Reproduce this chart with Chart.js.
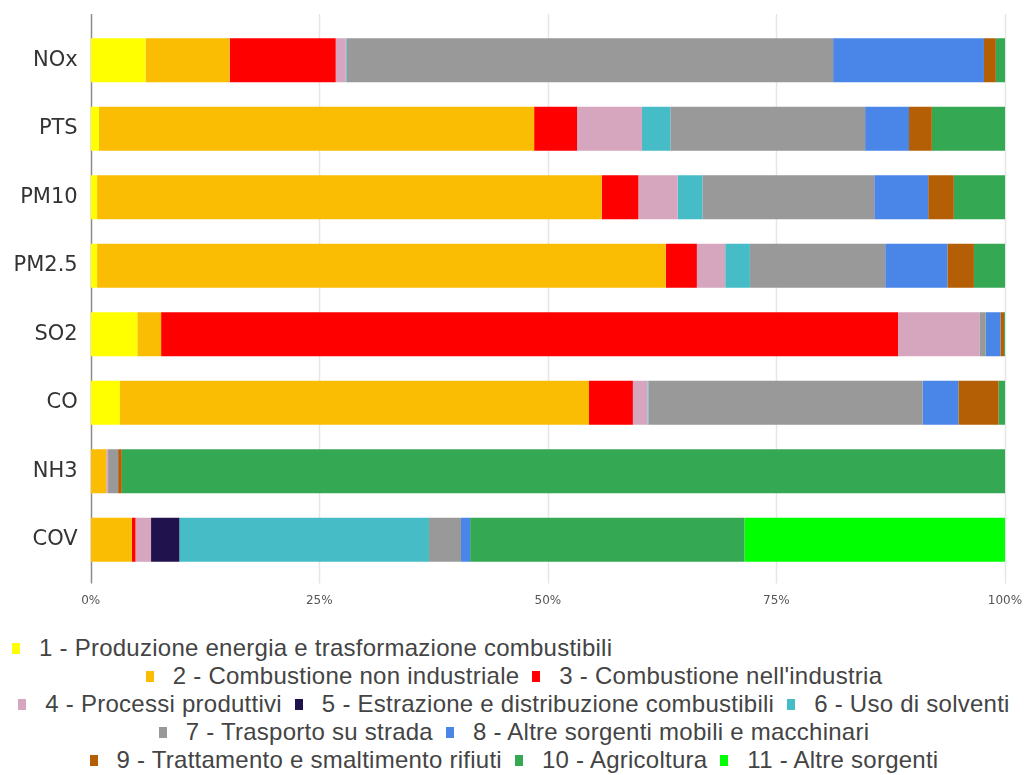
<!DOCTYPE html>
<html lang="it">
<head>
<meta charset="utf-8">
<title>Emissioni per macrosettore</title>
<script src="https://cdn.jsdelivr.net/npm/chart.js@4/dist/chart.umd.min.js"></script>
<style>
  html, body { margin: 0; padding: 0; background: #ffffff; }
  #wrap { position: relative; width: 1028px; height: 775px; overflow: hidden; }
  #chart { position: absolute; left: 0; top: 0; }
  .lg-row {
    position: absolute; left: 0; width: 1028px; height: 28px; line-height: 28px;
    font-family: "Liberation Sans", Arial, sans-serif; font-size: 24px; letter-spacing: 0.25px;
    color: #444; white-space: nowrap;
  }
  .lg-row.center { text-align: center; }
  .lg-item { display: inline-block; }
  .lg-item + .lg-item { margin-left: 13px; }
  .lg-box { display: inline-block; width: 8px; height: 11px; margin-right: 19px; vertical-align: 2px; }
</style>
</head>
<body>
<div id="wrap">
  <canvas id="chart" width="1028" height="620"></canvas>
  <div id="legend"></div>
</div>
<script>
// Inquinanti (categorie dell'asse verticale)
const pollutants = ['NOx', 'PTS', 'PM10', 'PM2.5', 'SO2', 'CO', 'NH3', 'COV'];

// Etichette dell'asse delle percentuali
const percentTicks = ['0%', '25%', '50%', '75%', '100%'];

// Nomi dei macrosettori
const sectorNames = [
  '1 - Produzione energia e trasformazione combustibili',
  '2 - Combustione non industriale',
  '3 - Combustione nell\'industria',
  '4 - Processi produttivi',
  '5 - Estrazione e distribuzione combustibili',
  '6 - Uso di solventi',
  '7 - Trasporto su strada',
  '8 - Altre sorgenti mobili e macchinari',
  '9 - Trattamento e smaltimento rifiuti',
  '10 - Agricoltura',
  '11 - Altre sorgenti'
];

const sectorColors = [
  '#ffff00', '#fbbc04', '#ff0000', '#d5a6bd', '#20124d', '#46bdc6',
  '#999999', '#4a86e8', '#b45f06', '#34a853', '#00ff00'
];

// Quota percentuale di ogni macrosettore, nell'ordine di "pollutants"
const produzioneEnergia   = [6.0, 0.9, 0.7, 0.7, 5.1, 3.2, 0.0, 0.0];
const combNonIndustriale  = [9.2, 47.6, 55.2, 62.2, 2.6, 51.3, 1.7, 4.5];
const combIndustria       = [11.6, 4.7, 4.0, 3.4, 80.6, 4.8, 0.0, 0.4];
const processiProduttivi  = [1.1, 7.1, 4.3, 3.1, 8.9, 1.6, 0.2, 1.7];
const estrazioneDistrib   = [0.0, 0.0, 0.0, 0.0, 0.0, 0.0, 0.0, 3.1];
const usoSolventi         = [0.1, 3.1, 2.7, 2.7, 0.0, 0.1, 0.0, 27.3];
const trasportoStrada     = [53.2, 21.3, 18.8, 14.8, 0.7, 30.0, 1.1, 3.5];
const altreSorgentiMobili = [16.5, 4.8, 5.9, 6.8, 1.6, 3.9, 0.0, 1.0];
const rifiuti             = [1.3, 2.5, 2.8, 2.9, 0.4, 4.4, 0.4, 0.0];
const agricoltura         = [1.0, 8.0, 5.6, 3.4, 0.1, 0.7, 96.6, 30.0];
const altreSorgenti       = [0.0, 0.0, 0.0, 0.0, 0.0, 0.0, 0.0, 28.5];

const sectorValues = [
  produzioneEnergia, combNonIndustriale, combIndustria, processiProduttivi,
  estrazioneDistrib, usoSolventi, trasportoStrada, altreSorgentiMobili,
  rifiuti, agricoltura, altreSorgenti
];

// Righe della legenda (indici dei macrosettori)
const legendRows = [[0], [1, 2], [3, 4, 5], [6, 7], [8, 9, 10]];

// Ogni barra è riportata al 100%
const totals = pollutants.map((_, i) => sectorValues.reduce((s, arr) => s + arr[i], 0));

const datasets = sectorNames.map((name, k) => ({
  label: name,
  data: sectorValues[k].map((v, i) => v / totals[i] * 100),
  backgroundColor: sectorColors[k],
  borderWidth: 0,
  categoryPercentage: 0.642,
  barPercentage: 1.0
}));

// Linee verticali della griglia, prolungate oltre l'area delle barre
const verticalGrid = {
  id: 'verticalGrid',
  beforeDatasetsDraw(chart) {
    const { ctx, chartArea, scales: { x } } = chart;
    const y0 = chartArea.top - 12;
    const y1 = chartArea.bottom + 9.5;
    ctx.save();
    x.ticks.forEach((t, i) => {
      const px = Math.round(x.getPixelForValue(t.value)) + 0.5;
      ctx.beginPath();
      ctx.lineWidth = 1.5;
      ctx.strokeStyle = i === 0 ? '#8c8c8c' : '#e6e6e6';
      ctx.moveTo(px, y0);
      ctx.lineTo(px, y1);
      ctx.stroke();
    });
    ctx.restore();
  }
};

new Chart(document.getElementById('chart'), {
  type: 'bar',
  data: { labels: pollutants, datasets },
  plugins: [verticalGrid],
  options: {
    indexAxis: 'y',
    responsive: false,
    animation: false,
    devicePixelRatio: 1,
    layout: { padding: { top: 26, right: 23, bottom: 0, left: 0 } },
    plugins: { legend: { display: false }, tooltip: { enabled: false } },
    scales: {
      x: {
        stacked: true,
        min: 0,
        max: 100,
        afterBuildTicks(scale) {
          scale.ticks = percentTicks.map((_, i) => ({ value: i * 25 }));
        },
        afterFit(scale) {
          scale.height = 46;
          scale.paddingLeft = 0;
          scale.paddingRight = 0;
        },
        grid: { display: false, drawTicks: false },
        border: { display: false },
        ticks: {
          padding: 20,
          color: '#555555',
          font: { family: 'DejaVu Sans', size: 12 },
          maxRotation: 0,
          callback: (v, i) => percentTicks[i]
        }
      },
      y: {
        stacked: true,
        afterFit(scale) { scale.width = 90.7; },
        grid: { display: false, drawTicks: false },
        border: { display: false },
        ticks: {
          padding: 13,
          color: '#333333',
          font: { family: 'DejaVu Sans', size: 21 }
        }
      }
    }
  }
});

// Legenda
const legend = document.getElementById('legend');
const rowCenters = [648, 676, 704, 732, 760];
legendRows.forEach((row, r) => {
  const div = document.createElement('div');
  div.className = 'lg-row' + (r === 0 ? '' : ' center');
  div.style.top = (rowCenters[r] - 14) + 'px';
  if (r === 0) div.style.paddingLeft = '12px';
  row.forEach(k => {
    const item = document.createElement('span');
    item.className = 'lg-item';
    const box = document.createElement('span');
    box.className = 'lg-box';
    box.style.background = sectorColors[k];
    item.appendChild(box);
    item.appendChild(document.createTextNode(sectorNames[k]));
    div.appendChild(item);
  });
  legend.appendChild(div);
});
</script>
</body>
</html>
